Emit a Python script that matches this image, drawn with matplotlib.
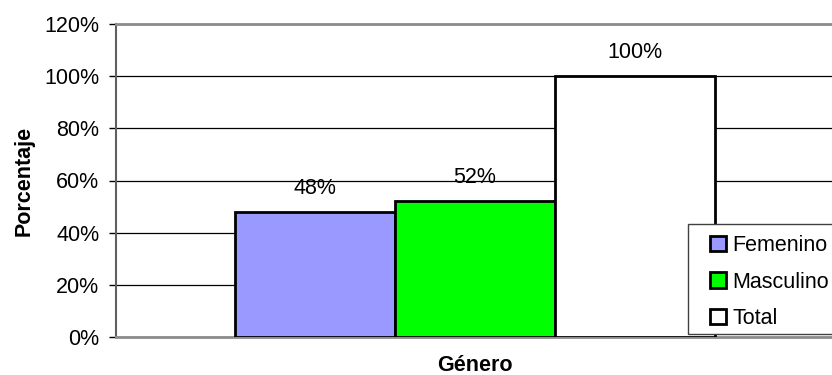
import matplotlib.pyplot as plt
from matplotlib.patches import Rectangle
from matplotlib.ticker import FuncFormatter

# porcentaje por género
categorias = ["Femenino", "Masculino", "Total"]
porcentajes = [48, 52, 100]
colores = ["#9999FF", "#00FF00", "#FFFFFF"]
yticks = [0, 20, 40, 60, 80, 100, 120]

plt.rcParams['font.family'] = ['Liberation Sans', 'DejaVu Sans']
FS = 15.5

fig = plt.figure(figsize=(8.32, 3.75), dpi=100)
ax = fig.add_axes([116/832, 1 - 337/375, 718/832, 313/375])

pos = list(range(len(categorias)))
bars = ax.bar(pos, porcentajes, width=1.0, color=colores, edgecolor="black",
              linewidth=2, label=categorias, zorder=3)

for b, v in zip(bars, porcentajes):
    ax.annotate("{}%".format(v), (b.get_x() + b.get_width()/2, v),
                xytext=(0, 17), textcoords="offset points",
                ha="center", va="center", fontsize=FS, zorder=4)

ax.set_xlim(-1.244, 3.244)
ax.set_ylim(0, 120)
ax.set_yticks(yticks)
ax.yaxis.set_major_formatter(FuncFormatter(lambda v, p: "{:.0f}%".format(v)))
ax.tick_params(axis='y', labelsize=FS, length=5, width=1, color="black", pad=7)
ax.set_xticks([])
ax.grid(axis='y', color="black", linewidth=0.9, zorder=0)

for s in ("top", "bottom"):
    ax.spines[s].set_color("#8c8c8c")
    ax.spines[s].set_linewidth(2)
ax.spines["left"].set_color("#606060")
ax.spines["left"].set_linewidth(1.5)
ax.spines["right"].set_visible(False)

ax.set_ylabel("Porcentaje", fontsize=FS, fontweight="bold", labelpad=7)
ax.set_xlabel("Género", fontsize=FS, fontweight="bold", labelpad=13)

# marco de la leyenda dibujado aparte para controlar los márgenes
fig.patches.append(Rectangle((688/832, 1 - 334/375), 160/832, 110/375,
                             transform=fig.transFigure, facecolor="white",
                             edgecolor="#404040", linewidth=1, zorder=5))

leg = fig.legend(handles=list(bars), labels=categorias, loc="upper left",
                 bbox_to_anchor=(710/832, 1 - 235/375),
                 bbox_transform=fig.transFigure, fontsize=FS, frameon=False,
                 handlelength=0.75, handleheight=0.75, handletextpad=0.3,
                 labelspacing=0.72, borderpad=0, borderaxespad=0)
leg.set_zorder(6)
for h in leg.legend_handles:
    h.set_linewidth(2)

fig.savefig("out.png", dpi=100)
